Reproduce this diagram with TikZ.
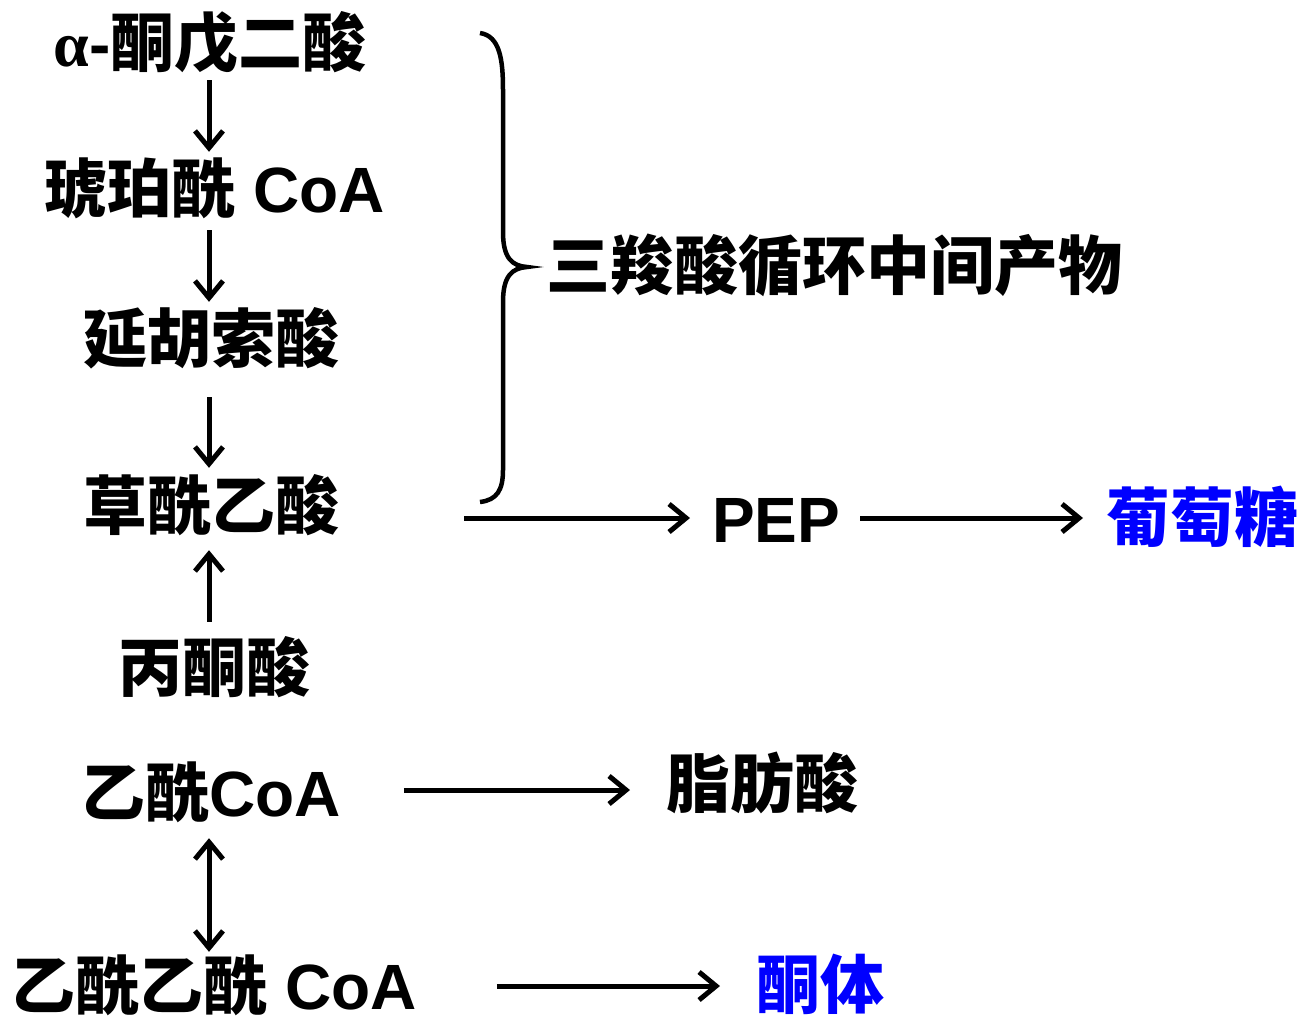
\documentclass[tikz,border=0pt]{standalone}
\usepackage{fontspec}
\setmainfont{Liberation Sans}
\newfontfamily\cjk{Noto Sans CJK SC}
\newfontfamily\grk{Liberation Serif}
\usetikzlibrary{arrows.meta}
\definecolor{myblue}{RGB}{0,0,255}
\tikzset{
  lbl/.style={inner sep=0pt, font=\fontsize{64pt}{64pt}\selectfont\bfseries, text height=56.3pt, text depth=7.7pt},
  bluelbl/.style={lbl, text=myblue},
  tipb/.tip={Straight Barb[length=17pt,width=28pt,line width=5pt]},
  arr/.style={line width=5pt, -tipb},
  darr/.style={line width=5pt, tipb-tipb},
  bracestyle/.style={line width=4.5pt}
}
\begin{document}
\begin{tikzpicture}[x=1pt,y=-1pt]
\path[use as bounding box] (0,0) rectangle (1301,1018);
\coordinate (ax) at (209,0);
\coordinate (yfa) at (0,790);
\coordinate (ykb) at (0,986);
\node[lbl] (akg) at (210,42) {{\grk α}-{\cjk 酮戊二酸}};
\node[lbl] (suc) at (214,188) {{\cjk 琥珀酰} CoA};
\node[lbl] (fum) at (211,338) {\cjk 延胡索酸};
\node[lbl] (oaa) at (211,505) {\cjk 草酰乙酸};
\node[lbl] (pyr) at (214,667) {\cjk 丙酮酸};
\node[lbl] (acc) at (211,792) {{\cjk 乙酰}CoA};
\node[lbl] (aac) at (214,985) {{\cjk 乙酰乙酰} CoA};
\node[lbl, anchor=west] (tca) at (546,265) {\cjk 三羧酸循环中间产物};
\node[lbl, anchor=west] (pep) at (712,518) {PEP};
\node[bluelbl, anchor=west] (glc) at (1106,517) {\cjk 葡萄糖};
\node[lbl, anchor=west] (fa) at (666,783) {\cjk 脂肪酸};
\node[bluelbl, anchor=west] (kb) at (756,984) {\cjk 酮体};
% vertical arrows
\draw[arr, shorten <=6pt, shorten >=4pt] (akg.south -| ax) -- (suc.north -| ax);
\draw[arr, shorten <=10pt, shorten >=4pt] (suc.south -| ax) -- (fum.north -| ax);
\draw[arr, shorten <=27pt, shorten >=5pt] (fum.south -| ax) -- (oaa.north -| ax);
\draw[arr, shorten <=13pt, shorten >=13pt] (pyr.north -| ax) -- (oaa.south -| ax);
\draw[darr, shorten <=14pt, shorten >=1pt] (acc.south -| ax) -- (aac.north -| ax);
% horizontal arrows
\draw[arr, shorten <=125pt, shorten >=22pt] (oaa.east |- pep.west) -- (pep.west);
\draw[arr, shorten <=20pt, shorten >=23pt] (pep.east) -- (glc.west |- pep.east);
\draw[arr, shorten <=63pt, shorten >=36pt] (acc.east |- yfa) -- (fa.west |- yfa);
\draw[arr, shorten <=80pt, shorten >=36pt] (aac.east |- ykb) -- (kb.west |- ykb);
% brace
\draw[bracestyle] (480,33) .. controls (500,36) and (503,60) .. (503,90) -- (503,232)
  .. controls (503,258) and (512,266) .. (527,267)
  .. controls (512,268) and (503,276) .. (503,302) -- (503,470)
  .. controls (503,490) and (497,500) .. (480,502);
\end{tikzpicture}
\end{document}
